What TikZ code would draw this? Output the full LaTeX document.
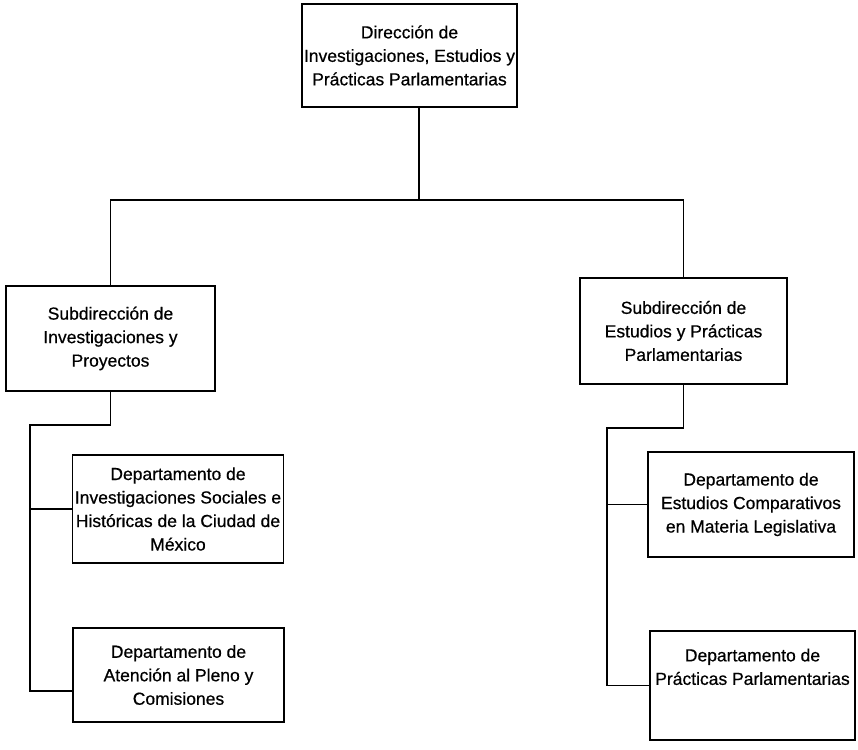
\documentclass[tikz,border=0pt]{standalone}
\usepackage{fontspec}
\setmainfont{Liberation Sans}[FakeBold=0.6]
\usetikzlibrary{calc}
\newcommand\unitwidth{207pt}
\tikzset{
    unit/.style={draw, line width=1.2pt, align=center, minimum width=\unitwidth, inner sep=2pt, font=\fontsize{17.5}{23.5}\selectfont},
    link/.style={line width=1.2pt},
}

\begin{document}
\begin{tikzpicture}[x=1pt,y=-1pt]
    \useasboundingbox (0,0) rectangle (858,749);
    % boxes
    \node(dir)[unit, minimum height=103pt] at (409.5,55.5){Dirección de\\Investigaciones, Estudios y\\Prácticas Parlamentarias};
    \node(sub1)[unit, minimum width=209pt, minimum height=105pt] at (110.5,338.5){Subdirección de\\Investigaciones y\\Proyectos};
    \node(sub2)[unit, minimum height=106pt] at (683.5,331){Subdirección de\\Estudios y Prácticas\\Parlamentarias};
    \node(dep1)[unit, minimum width=210pt, minimum height=108pt] at (178,509){Departamento de\\Investigaciones Sociales e\\Históricas de la Ciudad de\\México};
    \node(dep2)[unit, minimum width=211pt, minimum height=94pt] at (178.5,675){Departamento de\\Atención al Pleno y\\Comisiones};
    \node(dep3)[unit, minimum width=206pt, minimum height=105pt] at (751,504.5){Departamento de\\Estudios Comparativos\\en Materia Legislativa};
    \node(dep4)[unit, minimum width=205pt, minimum height=109pt] at (752.5,685.5){Departamento de\\Prácticas Parlamentarias\\[14pt]};
    % connectors
    \coordinate(top) at (419,200);
    \coordinate(lbus) at (30,425);
    \coordinate(rbus) at (607,428);
    \coordinate(lend) at ($(dep2.west)+(0,16)$);
    \draw[link] (dir.south -| top) -- (top);
    \draw[link] (sub1.north) |- (top) -| (sub2.north);
    \draw[link] (sub1.south) |- (lbus) -- (lbus |- lend) -- (lend);
    \draw[link] (lbus |- dep1.west) -- (dep1.west);
    \draw[link] (sub2.south) |- (rbus) -- (rbus |- dep4.west) -- (dep4.west);
    \draw[link] (rbus |- dep3.west) -- (dep3.west);
\end{tikzpicture}
\end{document}
